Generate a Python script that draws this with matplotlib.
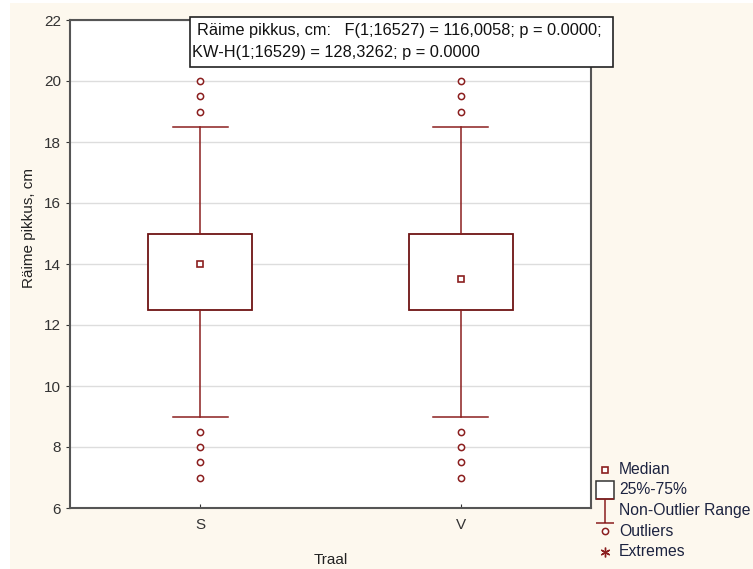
import matplotlib
matplotlib.use("Agg")
import matplotlib.pyplot as plt
from matplotlib.patches import Rectangle
from matplotlib.lines import Line2D
from matplotlib.path import Path

plt.rcParams['font.family'] = ['Liberation Sans', 'DejaVu Sans']

# data
groups = ["S", "V"]
medians = [14.0, 13.5]
q1 = [12.5, 12.5]
q3 = [15.0, 15.0]
whisk_lo = [9.0, 9.0]
whisk_hi = [18.5, 18.5]
outliers = [[20.0, 19.5, 19.0, 8.5, 8.0, 7.5, 7.0],
            [20.0, 19.5, 19.0, 8.5, 8.0, 7.5, 7.0]]

stat_line1 = "Räime pikkus, cm:   F(1;16527) = 116,0058; p = 0.0000;"
stat_line2 = "KW-H(1;16529) = 128,3262; p = 0.0000"
legend_labels = ["Median", "25%-75%", "Non-Outlier Range", "Outliers", "Extremes"]

red = "#8b1f1f"
cream = "#fdf8ee"
W, H = 753, 569

fig = plt.figure(figsize=(7.53, 5.69), dpi=100)
fig.patch.set_facecolor("white")
fig.add_artist(Rectangle((10 / W, 0), 1 - 10 / W, 1 - 3 / H, transform=fig.transFigure,
                         facecolor=cream, edgecolor="none", zorder=-10))

ax = fig.add_axes([70 / W, 61 / H, 521 / W, 488 / H])
ax.set_facecolor("white")

positions = [1, 2]
stats = []
for i in range(len(groups)):
    stats.append({"med": medians[i], "q1": q1[i], "q3": q3[i],
                  "whislo": whisk_lo[i], "whishi": whisk_hi[i],
                  "fliers": outliers[i], "label": groups[i]})

ax.bxp(stats, positions=positions, widths=0.4, showfliers=True, patch_artist=True,
       boxprops=dict(facecolor="white", edgecolor="#6e1414", linewidth=1.3),
       whiskerprops=dict(color=red, linewidth=1.1),
       capprops=dict(color=red, linewidth=1.1),
       capwidths=0.21,
       medianprops=dict(linewidth=0),
       flierprops=dict(marker="o", markersize=4.5, markerfacecolor="white",
                       markeredgecolor=red, markeredgewidth=1.1),
       zorder=3)
ax.plot(positions, medians, linestyle="none", marker="s", markersize=5,
        markerfacecolor="white", markeredgecolor=red, markeredgewidth=1.2, zorder=4)

ax.set_xlim(0.5, 2.5)
ax.set_ylim(6, 22)
ax.set_yticks(range(6, 23, 2))
ax.set_xticks(positions)
ax.set_xticklabels(groups)
ax.yaxis.grid(True, color="#dddddd", linewidth=1)
ax.set_axisbelow(True)
ax.tick_params(axis="y", direction="out", length=3, labelsize=11, colors="#333333")
ax.tick_params(axis="x", direction="in", length=3, labelsize=11, colors="#333333", pad=7)
for sp in ax.spines.values():
    sp.set_color("#555555")
    sp.set_linewidth(1.5)

ax.set_ylabel("Räime pikkus, cm", fontsize=11, color="#222222")
ax.yaxis.set_label_coords(-0.066, 0.574)
ax.set_xlabel("Traal", fontsize=11, color="#222222")
ax.xaxis.set_label_coords(0.5, -0.092)

# statistics box
fig.add_artist(Rectangle((190 / W, 1 - 67 / H), 423 / W, 50 / H, transform=fig.transFigure,
                         facecolor="white", edgecolor="#222222", linewidth=1.2, zorder=5))
fig.text(197 / W, 1 - 31 / H, stat_line1, fontsize=11.8, va="center", ha="left",
         color="#111111", zorder=6)
fig.text(192 / W, 1 - 52 / H, stat_line2, fontsize=11.8, va="center", ha="left",
         color="#111111", zorder=6)

# legend drawn by hand
ibeam = Path([(-0.8, 1), (0.8, 1), (0, 1), (0, -1), (-0.8, -1), (0.8, -1)],
             [Path.MOVETO, Path.LINETO, Path.MOVETO, Path.LINETO, Path.MOVETO, Path.LINETO])
leg_markers = [
    dict(marker="s", markersize=5, markerfacecolor="white", markeredgecolor=red, markeredgewidth=1.2),
    dict(marker="s", markersize=13, markerfacecolor="white", markeredgecolor="#333333", markeredgewidth=1.1),
    dict(marker=ibeam, markersize=17, markerfacecolor="none", markeredgecolor=red, markeredgewidth=1.1),
    dict(marker="o", markersize=4.5, markerfacecolor="white", markeredgecolor=red, markeredgewidth=1.1),
    dict(marker=(6, 2, 0), markersize=7, markeredgecolor=red, markeredgewidth=1.0),
]
leg_y = [470, 490, 511, 531, 552]
for lab, mk, yy in zip(legend_labels, leg_markers, leg_y):
    fig.add_artist(Line2D([605 / W], [1 - yy / H], transform=fig.transFigure, linestyle="none", **mk))
    fig.text(619 / W, 1 - yy / H, lab, fontsize=11.3, va="center", ha="left", color="#1c2340")

fig.savefig("out.png", dpi=100, facecolor=fig.get_facecolor())
